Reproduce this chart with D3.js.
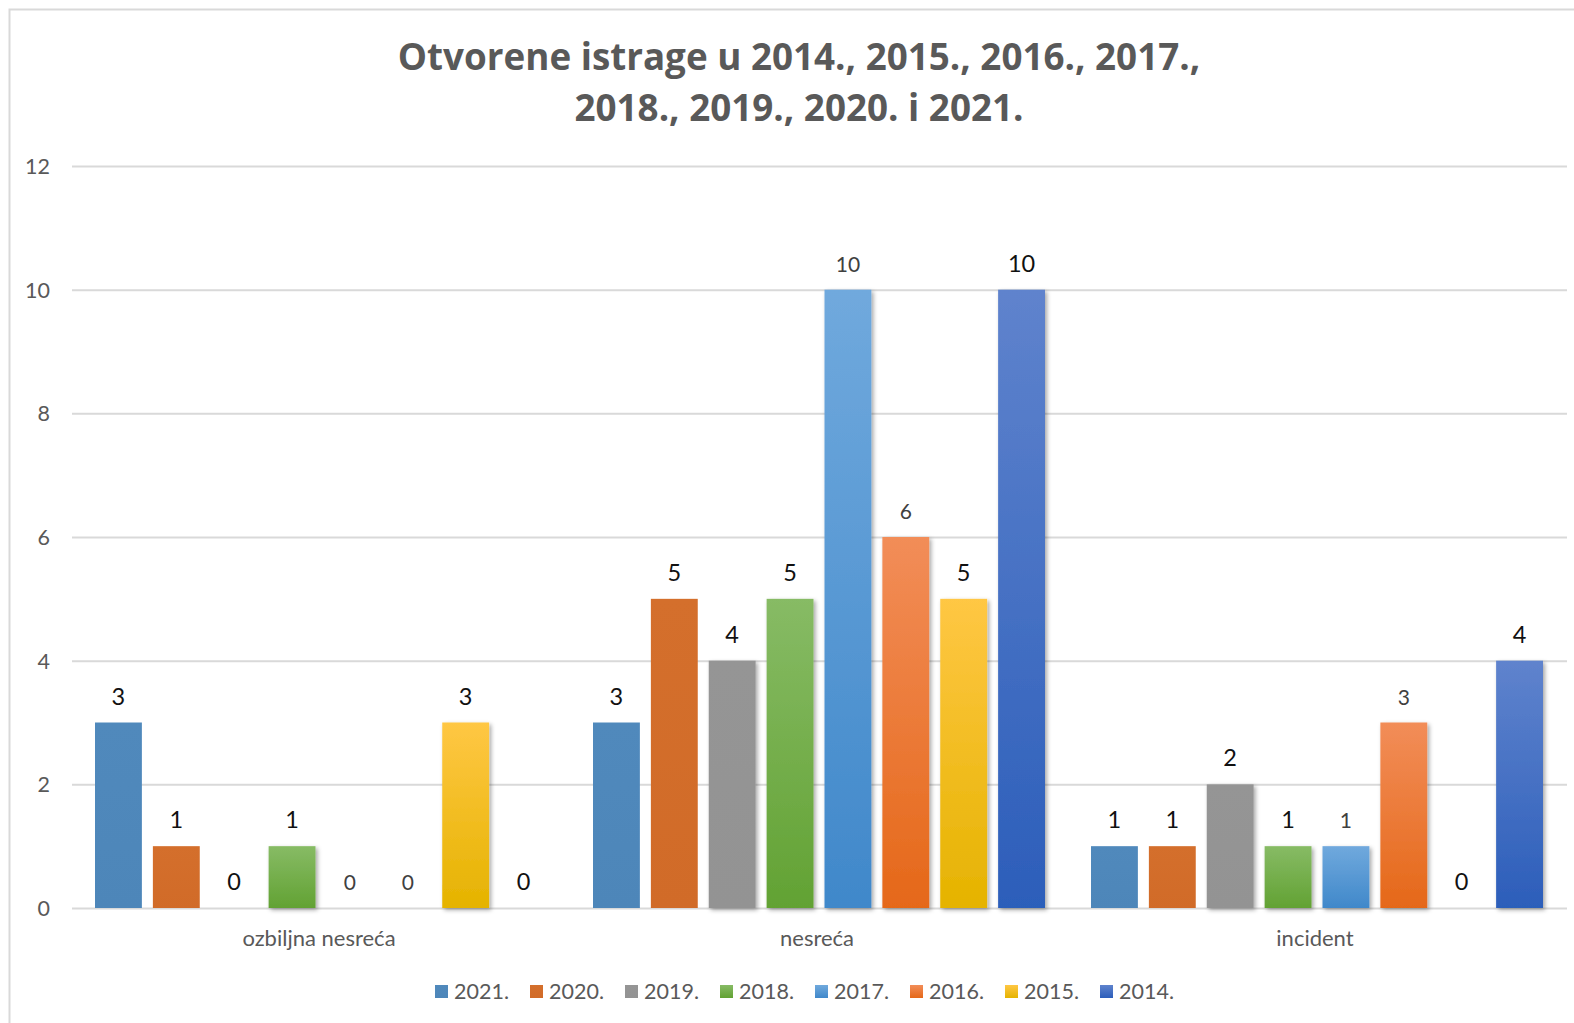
<!DOCTYPE html>
<html>
<head>
<meta charset="utf-8">
<script src="https://cdn.jsdelivr.net/npm/d3@7"></script>
<style>
  html, body { margin: 0; padding: 0; background: #fff; }
  svg { display: block; font-family: Lato, "Open Sans", sans-serif; }
</style>
</head>
<body>
<svg id="chart" width="1574" height="1023"></svg>
<script>
const categories = ["ozbiljna nesreća", "nesreća", "incident"];
const seriesNames = ["2021.", "2020.", "2019.", "2018.", "2017.", "2016.", "2015.", "2014."];
const v2021 = [3, 3, 1];
const v2020 = [1, 5, 1];
const v2019 = [0, 4, 2];
const v2018 = [1, 5, 1];
const v2017 = [0, 10, 1];
const v2016 = [0, 6, 3];
const v2015 = [3, 5, 0];
const v2014 = [0, 10, 4];
const yTicks = [0, 2, 4, 6, 8, 10, 12];
const titleLines = ["Otvorene istrage u 2014., 2015., 2016., 2017.,", "2018., 2019., 2020. i 2021."];

const seriesValues = [v2021, v2020, v2019, v2018, v2017, v2016, v2015, v2014];
// colour stops (top, bottom) and style per series
const seriesStyle = [
  { top: "#5089bc", bottom: "#4d86b9", shadow: false, big: true },
  { top: "#d46f2c", bottom: "#d16b28", shadow: false, big: true },
  { top: "#959595", bottom: "#939393", shadow: true, big: true },
  { top: "#87bb65", bottom: "#62a233", shadow: true, big: true },
  { top: "#70a9dd", bottom: "#4088ca", shadow: true, big: false },
  { top: "#f28d58", bottom: "#e56819", shadow: true, big: false },
  { top: "#ffc744", bottom: "#e5b300", shadow: true, big: true },
  { top: "#5f83cd", bottom: "#2c5eba", shadow: true, big: true }
];

const svg = d3.select("#chart");
const defs = svg.append("defs");
seriesStyle.forEach((s, i) => {
  const g = defs.append("linearGradient").attr("id", "grad" + i)
    .attr("x1", 0).attr("y1", 0).attr("x2", 0).attr("y2", 1);
  g.append("stop").attr("offset", "0%").attr("stop-color", s.top);
  g.append("stop").attr("offset", "100%").attr("stop-color", s.bottom);
});
const f = defs.append("filter").attr("id", "shadow")
  .attr("x", "-30%").attr("y", "-10%").attr("width", "160%").attr("height", "130%");
f.append("feDropShadow").attr("dx", 2).attr("dy", 2).attr("stdDeviation", 2.2)
  .attr("flood-color", "#000").attr("flood-opacity", 0.35);

// chart border (top/left visible)
svg.append("rect").attr("x", 9.5).attr("y", 9.5).attr("width", 1700).attr("height", 1200)
  .attr("fill", "none").attr("stroke", "#d9d9d9").attr("stroke-width", 2);

// title
svg.append("g").selectAll("text").data(titleLines).join("text")
  .attr("x", 799).attr("y", (d, i) => 70 + i * 51)
  .attr("text-anchor", "middle")
  .style("font-family", "'Open Sans', sans-serif")
  .attr("font-size", 36.8).attr("font-weight", "bold").attr("fill", "#595959")
  .text(d => d);

const y = d3.scaleLinear().domain([0, 12]).range([908, 166]);
const x0 = d3.scaleBand().domain(categories).range([72, 1566]).padding(0);
const x1 = d3.scaleBand().domain(seriesNames).range([23, 475]).paddingInner(0.19).paddingOuter(0);

// gridlines
const yAxis = d3.axisLeft(y).tickValues(yTicks).tickSize(-(1567 - 72)).tickPadding(22).tickFormat(d3.format("d"));
const ga = svg.append("g").attr("transform", "translate(72,0)").call(yAxis);
ga.select(".domain").remove();
ga.selectAll(".tick line").attr("stroke", "#d9d9d9").attr("stroke-width", 2);
ga.selectAll(".tick text").attr("font-size", 21.5).attr("fill", "#595959")
  .style("font-family", "Lato, sans-serif").attr("dy", "0.35em");

// bars
const groups = svg.append("g").selectAll("g").data(categories).join("g")
  .attr("transform", c => `translate(${x0(c)},0)`);

groups.each(function (c, ci) {
  const g = d3.select(this);
  const items = seriesNames.map((s, si) => ({ s, si, v: seriesValues[si][ci] }));
  g.selectAll("rect").data(items.filter(d => d.v > 0)).join("rect")
    .attr("x", d => x1(d.s))
    .attr("y", d => y(d.v))
    .attr("width", x1.bandwidth())
    .attr("height", d => y(0) - y(d.v))
    .attr("fill", d => `url(#grad${d.si})`)
    .attr("filter", d => seriesStyle[d.si].shadow ? "url(#shadow)" : null);
  g.selectAll("text").data(items).join("text")
    .attr("x", d => x1(d.s) + x1.bandwidth() / 2)
    .attr("y", d => y(d.v) - 18)
    .attr("text-anchor", "middle")
    .attr("font-size", d => seriesStyle[d.si].big ? 23.5 : 21)
    .attr("fill", d => seriesStyle[d.si].big ? "#111" : "#404040")
    .text(d => d.v);
});

// category labels
svg.append("g").selectAll("text").data(categories).join("text")
  .attr("x", c => x0(c) + x0.bandwidth() / 2 - 2)
  .attr("y", 946)
  .attr("text-anchor", "middle")
  .attr("font-size", 22).attr("fill", "#595959")
  .text(c => c);

// legend
const lx = d3.scaleBand().domain(seriesNames).range([435, 435 + 8 * 95]);
const lg = svg.append("g").selectAll("g").data(seriesNames).join("g")
  .attr("transform", s => `translate(${lx(s)},0)`);
lg.append("rect").attr("x", 0).attr("y", 985).attr("width", 13).attr("height", 13)
  .attr("fill", (s, i) => `url(#grad${i})`);
lg.append("text").attr("x", 19).attr("y", 999)
  .attr("font-size", 21.5).attr("fill", "#595959").text(s => s);
</script>
</body>
</html>
